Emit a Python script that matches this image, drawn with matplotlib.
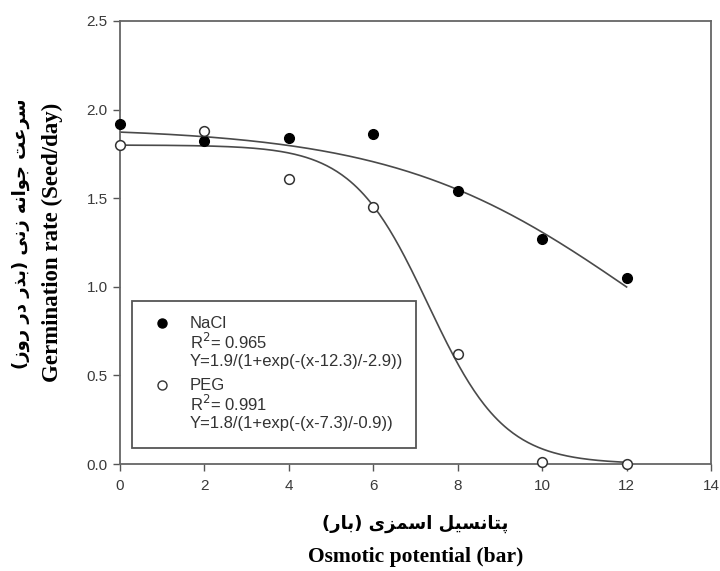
import numpy as np
import matplotlib
matplotlib.use('Agg')
import matplotlib.pyplot as plt
from matplotlib.patches import Rectangle

# measured data
osmotic = [0, 2, 4, 6, 8, 10, 12]
nacl_rate = [1.92, 1.82, 1.84, 1.86, 1.54, 1.27, 1.05]
peg_rate = [1.80, 1.88, 1.61, 1.45, 0.62, 0.01, 0.00]

# fitted sigmoid parameters  Y = a/(1+exp(-(x-x0)/b))
nacl_fit = (1.9, 12.3, -2.9)
peg_fit = (1.8, 7.3, -0.9)

x_ticks = [0, 2, 4, 6, 8, 10, 12, 14]
y_ticks = [0.0, 0.5, 1.0, 1.5, 2.0, 2.5]

ylabel_fa = 'سرعت جوانه زنی (بذر در روز)'
ylabel_en = 'Germination rate (Seed/day)'
xlabel_fa = 'پتانسیل اسمزی (بار)'
xlabel_en = 'Osmotic potential (bar)'

# presentation forms: isolated, final, initial, medial
FORMS = {
    'ا': ('\uFE8D', '\uFE8E', None, None),
    'ب': ('\uFE8F', '\uFE90', '\uFE91', '\uFE92'),
    'پ': ('\uFB56', '\uFB57', '\uFB58', '\uFB59'),
    'ت': ('\uFE95', '\uFE96', '\uFE97', '\uFE98'),
    'ج': ('\uFE9D', '\uFE9E', '\uFE9F', '\uFEA0'),
    'د': ('\uFEA9', '\uFEAA', None, None),
    'ذ': ('\uFEAB', '\uFEAC', None, None),
    'ر': ('\uFEAD', '\uFEAE', None, None),
    'ز': ('\uFEAF', '\uFEB0', None, None),
    'س': ('\uFEB1', '\uFEB2', '\uFEB3', '\uFEB4'),
    'ع': ('\uFEC9', '\uFECA', '\uFECB', '\uFECC'),
    'ل': ('\uFEDD', '\uFEDE', '\uFEDF', '\uFEE0'),
    'م': ('\uFEE1', '\uFEE2', '\uFEE3', '\uFEE4'),
    'ن': ('\uFEE5', '\uFEE6', '\uFEE7', '\uFEE8'),
    'ه': ('\uFEE9', '\uFEEA', '\uFEEB', '\uFEEC'),
    'و': ('\uFEED', '\uFEEE', None, None),
    'ی': ('\uFBFC', '\uFBFD', '\uFBFE', '\uFBFF'),
}


def shape_fa(text):
    out = []
    for i, c in enumerate(text):
        if c not in FORMS:
            out.append(c)
            continue
        iso, fin, ini, med = FORMS[c]
        prev = text[i - 1] if i > 0 else ''
        nxt = text[i + 1] if i + 1 < len(text) else ''
        jp = prev in FORMS and FORMS[prev][2] is not None
        jn = nxt in FORMS and ini is not None
        if jp and jn:
            out.append(med)
        elif jp:
            out.append(fin)
        elif jn:
            out.append(ini)
        else:
            out.append(iso)
    mirror = {'(': ')', ')': '('}
    return ''.join(mirror.get(c, c) for c in reversed(out))


def sigmoid(x, a, x0, b):
    return a / (1 + np.exp(-(x - x0) / b))


fig = plt.figure(figsize=(7.2, 5.71), dpi=100)
ax = fig.add_axes([120 / 720, 1 - 464 / 571, 591 / 720, 443 / 571])

xs = np.linspace(0, 12, 300)
line_col = '#4a4a4a'
ax.plot(xs, sigmoid(xs, *nacl_fit), color=line_col, lw=1.2, zorder=2)
ax.plot(xs, sigmoid(xs, *peg_fit), color=line_col, lw=1.2, zorder=2)

ax.plot(osmotic, nacl_rate, 'o', ms=7, mfc='black', mec='black', zorder=3, clip_on=False)
ax.plot(osmotic, peg_rate, 'o', ms=7, mfc='white', mec='#333333', mew=1.1, zorder=3, clip_on=False)

ax.set_xlim(0, 14)
ax.set_ylim(0, 2.5)
ax.set_xticks(x_ticks)
ax.set_yticks(y_ticks)
ax.set_xticklabels([str(t) for t in x_ticks])
ax.set_yticklabels([f'{t:.1f}' for t in y_ticks])
ax.tick_params(direction='out', length=5, width=1, color='#555555',
               labelsize=11, labelcolor='#3a3a3a', top=False, right=False)
ax.tick_params(axis='x', pad=6)
ax.tick_params(axis='y', pad=4)
for lbl in ax.get_xticklabels() + ax.get_yticklabels():
    lbl.set_family('Liberation Sans')
for sp in ax.spines.values():
    sp.set_color('#666666')
    sp.set_linewidth(1.3)

# axis titles (Persian + English)
ax.text(-0.168, 0.52, shape_fa(ylabel_fa), transform=ax.transAxes, rotation=90,
        ha='center', va='center', fontsize=13, fontweight='bold', family=['DejaVu Sans'])
ax.text(-0.115, 0.5, ylabel_en, transform=ax.transAxes, rotation=90,
        ha='center', va='center', fontsize=16.5, fontweight='bold', family=['Liberation Serif'])
ax.text(0.5, -0.135, shape_fa(xlabel_fa), transform=ax.transAxes,
        ha='center', va='center', fontsize=13, fontweight='bold', family=['DejaVu Sans'])
ax.text(0.5, -0.21, xlabel_en, transform=ax.transAxes,
        ha='center', va='center', fontsize=15.5, fontweight='bold', family=['Liberation Serif'])

# legend box
ax.add_patch(Rectangle((0.0203, 0.036), 0.4805, 0.332, transform=ax.transAxes,
                       fill=True, fc='white', ec='#555555', lw=1.3, zorder=4))
entries = [
    ('NaCl', 'R$^2$= 0.965', 'Y=1.9/(1+exp(-(x-12.3)/-2.9))', 'black', 'black'),
    ('PEG', 'R$^2$= 0.991', 'Y=1.8/(1+exp(-(x-7.3)/-0.9))', 'white', '#333333'),
]
y0 = 0.318
for name, r2, eq, fc, ec in entries:
    ax.plot([0.0711], [y0], 'o', ms=6.5, mfc=fc, mec=ec, transform=ax.transAxes,
            clip_on=False, zorder=5)
    for k, t in enumerate([name, r2, eq]):
        ax.text(0.1184, y0 - k * 0.043, t, transform=ax.transAxes, ha='left',
                va='center', fontsize=12, color='#333333',
                family=['Liberation Sans'], zorder=5)
    y0 -= 0.140

fig.savefig('out.png', dpi=100)
